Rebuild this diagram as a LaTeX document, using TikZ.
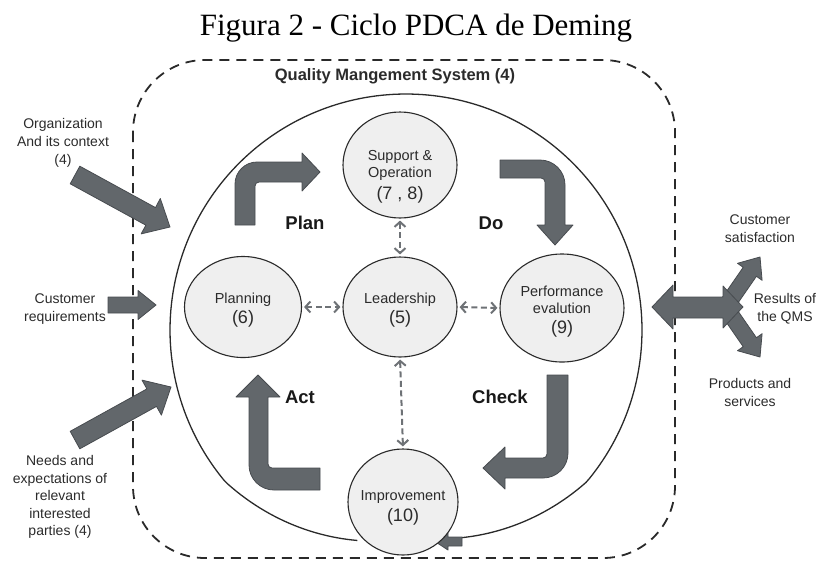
\documentclass[tikz,border=0pt]{standalone}
\usepackage{fontspec}
\setmainfont{Liberation Sans}
\newfontfamily\titlefont{Liberation Serif}
\usetikzlibrary{shapes.geometric,arrows.meta,calc}
\definecolor{arrowfill}{HTML}{62676B}
\definecolor{arrowline}{HTML}{474B4F}
\definecolor{nodefill}{HTML}{EFEFEF}
\definecolor{lineclr}{HTML}{2A2A2A}
\definecolor{dashclr}{HTML}{6E7276}
\definecolor{txtclr}{HTML}{2B2B2B}
\begin{document}
\begin{tikzpicture}[x=1pt,y=-1pt,
 blockarrow/.style={fill=arrowfill, draw=arrowline, line width=0.8pt, line join=round},
 phase/.style={ellipse, draw=lineclr, line width=1.1pt, fill=nodefill, inner sep=0pt},
 nodetext/.style={align=center, text=txtclr, font=\fontsize{14.5}{16.5}\selectfont, inner sep=0pt},
 sidetext/.style={align=center, text=txtclr, font=\fontsize{14}{18}\selectfont, inner sep=0pt},
 phaselabel/.style={font=\bfseries\fontsize{18.5}{20}\selectfont, text=black!90, inner sep=0pt},
 link/.style={dashclr, line width=2pt, dash pattern=on 6pt off 3.5pt, {Straight Barb[length=5pt,width=11pt,line width=2pt]}-{Straight Barb[length=5pt,width=11pt,line width=2pt]}, shorten <=2pt, shorten >=2pt},
 boundary/.style={lineclr, line width=1.8pt, dash pattern=on 10pt off 7pt},
 ]
\useasboundingbox (0,0) rectangle (818,563);

% title
\node[font=\titlefont\fontsize{31}{34}\selectfont, anchor=base, inner sep=0pt] (title) at (416,35) {Figura 2 - Ciclo PDCA de Deming};

% dashed QMS boundary
\draw[boundary, rounded corners=72pt] (133,60) rectangle (675,558);
\node[font=\bfseries\fontsize{16.5}{18}\selectfont, anchor=base, text=txtclr, inner sep=0pt] (qms) at (395,80) {Quality Mangement System (4)};

% spiral big circle
\draw[lineclr, line width=1.3pt] plot[domain=103:435, samples=240]
  ({406+(236-20*max(0,(140-\x)/37)-21*max(0,(\x-400)/35))*cos(\x)},
   {330+(236-20*max(0,(140-\x)/37)-21*max(0,(\x-400)/35))*sin(\x)});

% small arrow into Improvement
\draw[blockarrow] (462,537) -- (448,537) -- (448,533) -- (435,541.5) -- (448,550) -- (448,546) -- (462,546) -- cycle;

% phase circles
\node[phase, minimum width=114pt, minimum height=106pt] (sup) at (400,165) {};
\node[phase, minimum width=117pt, minimum height=101pt] (plan) at (243,307) {};
\node[phase, minimum width=114pt, minimum height=100pt] (lead) at (400,307) {};
\node[phase, minimum width=124pt, minimum height=108pt] (perf) at (562,308) {};
\node[phase, minimum width=110pt, minimum height=106pt] (imp) at (403,502) {};

\node[nodetext] (supt) at (400,177) {Support \&\\Operation\\[6pt]\fontsize{18}{22}\selectfont(7 , 8)};
\node[nodetext] (plant) at (243,310) {Planning\\[4pt]\fontsize{18}{21}\selectfont(6)};
\node[nodetext] (leadt) at (400,310) {Leadership\\[4pt]\fontsize{18}{21}\selectfont(5)};
\node[nodetext] (perft) at (562,312) {Performance\\evalution\\[4pt]\fontsize{18}{21}\selectfont(9)};
\node[nodetext] (impt) at (403,508) {Improvement\\[4pt]\fontsize{18}{21}\selectfont(10)};

% dashed links
\draw[link] (sup.south) -- (lead.north);
\draw[link] (plan.east) -- (lead.west);
\draw[link] (lead.east) -- (perf.west);
\draw[link] (lead.south) -- (imp.north);

% phase labels
\node[phaselabel] (planlbl) at (305,223) {Plan};
\node[phaselabel] (dolbl) at (491,223) {Do};
\node[phaselabel] (actlbl) at (300,397) {Act};
\node[phaselabel] (checklbl) at (500,397) {Check};

% cycle block arrows
% Plan
\draw[blockarrow] (235,225) -- (235,184) .. controls (235,171.9) and (244.9,162) .. (257,162)
  -- (302,162) -- (302,153) -- (320,172) -- (302,191) -- (302,182) -- (259,182)
  .. controls (256.8,182) and (255,183.8) .. (255,186) -- (255,225) -- cycle;
% Do
\draw[blockarrow] (500,160) -- (540,160) .. controls (553.8,160) and (565,171.2) .. (565,185)
  -- (565,225) -- (573,225) -- (555,245) -- (537,225) -- (545,225) -- (545,182)
  .. controls (545,179.8) and (543.2,178) .. (541,178) -- (500,178) -- cycle;
% Check
\draw[blockarrow] (547,375) -- (568,375) -- (568,453) .. controls (568,466.8) and (556.8,478) .. (543,478)
  -- (505,478) -- (505,489) -- (483,468) -- (505,447) -- (505,458) -- (543,458)
  .. controls (545.2,458) and (547,456.2) .. (547,454) -- cycle;
% Act
\draw[blockarrow] (258,375) -- (280,397) -- (268,397) -- (268,464)
  .. controls (268,466.2) and (269.8,468) .. (272,468) -- (320,468) -- (320,490) -- (274,490)
  .. controls (260.2,490) and (249,478.8) .. (249,465) -- (249,397) -- (236,397) -- cycle;

% inputs (left)
\draw[blockarrow] (79.8,166.2) -- (155.5,207.6) -- (160.3,198.5) -- (170,227) -- (141.1,233.9) -- (145.9,225.2) -- (70.2,183.8) -- cycle;
\draw[blockarrow] (108,297) -- (138,297) -- (138,290.5) -- (156,305) -- (138,319.5) -- (138,313) -- (108,313) -- cycle;
\draw[blockarrow] (70.2,431.3) -- (146.9,388.9) -- (142.0,380.1) -- (171,387) -- (161.4,415.1) -- (156.5,406.4) -- (79.8,448.8) -- cycle;

% outputs (right)
\draw[blockarrow] (715.4,307.5) -- (743.2,267.3) -- (737.5,263.3) -- (760,257) -- (762.1,280.3) -- (756.4,276.3) -- (728.6,316.5) -- cycle;
\draw[blockarrow] (715.4,306.5) -- (743.2,346.7) -- (737.5,350.7) -- (760,357) -- (762.1,333.7) -- (756.4,337.7) -- (728.6,297.5) -- cycle;
\draw[blockarrow] (652,307) -- (673,285) -- (673,297) -- (723,297) -- (723,286) -- (743,307) -- (723,328) -- (723,318) -- (673,318) -- (673,329) -- cycle;

% side texts
\node[sidetext] (org) at (63,143) {Organization\\And its context\\(4)};
\node[sidetext] (creq) at (65,309) {Customer\\requirements};
\node[sidetext, font=\fontsize{14}{17.5}\selectfont] (needs) at (60,497) {Needs and\\expectations of\\relevant\\interested\\parties (4)};
\node[sidetext] (csat) at (760,229) {Customer\\satisfaction};
\node[sidetext] (res) at (785,308.5) {Results of\\the QMS};
\node[sidetext] (prod) at (750,392.5) {Products and\\services};
\end{tikzpicture}
\end{document}
